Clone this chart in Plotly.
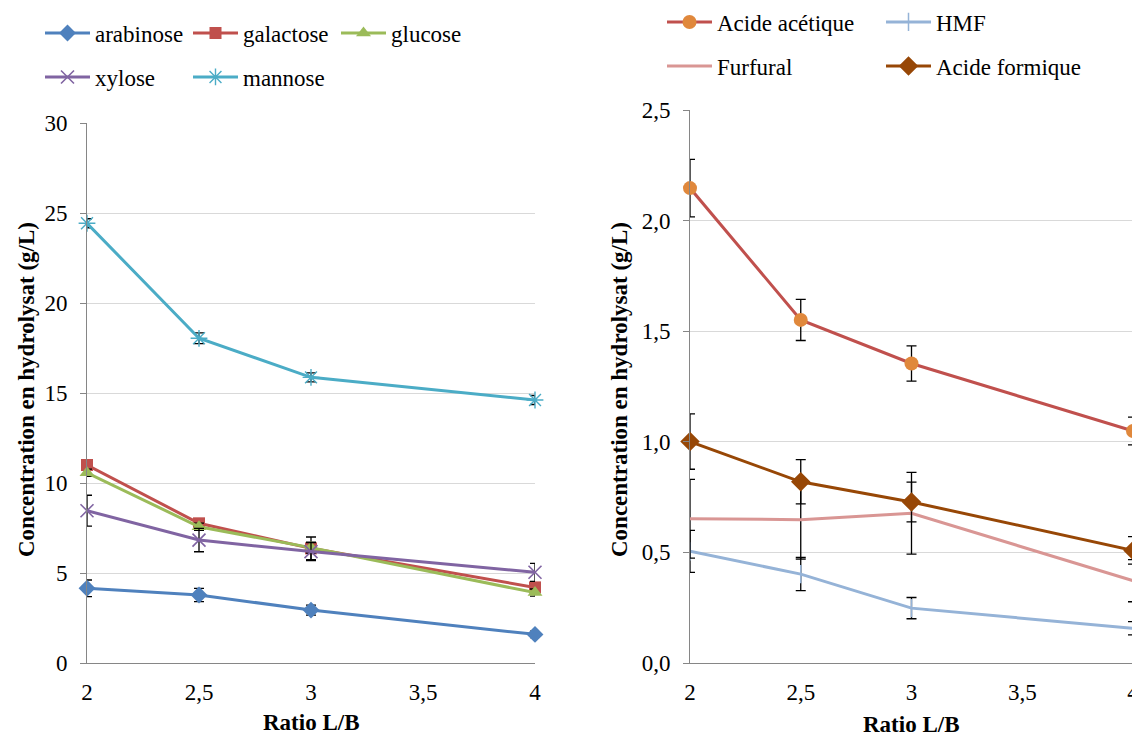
import plotly.graph_objects as go

# ---------------- data ----------------
ratio = [2, 2.5, 3, 4]

arabinose = [4.15, 3.78, 2.94, 1.59]
arabinose_err = [0.46, 0.37, 0.28, 0.18]
galactose = [11.0, 7.76, 6.37, 4.2]
galactose_err = [0.2, 0.2, 0.63, 0.3]
glucose = [10.57, 7.57, 6.41, 3.91]
glucose_err = [0.2, 0.2, 0.3, 0.2]
xylose = [8.46, 6.83, 6.19, 5.04]
xylose_err = [0.86, 0.65, 0.5, 0.5]
mannose = [24.43, 18.04, 15.87, 14.61]
mannose_err = [0.25, 0.3, 0.25, 0.25]

acide_acetique = [2.147, 1.551, 1.354, 1.049]
acide_acetique_err = [0.13, 0.093, 0.08, 0.063]
hmf = [0.505, 0.402, 0.248, 0.157]
hmf_err = [0.095, 0.075, 0.048, 0.03]
furfural = [0.652, 0.648, 0.677, 0.372]
furfural_err = [0.178, 0.178, 0.185, 0.095]
acide_formique = [1.001, 0.819, 0.728, 0.509]
acide_formique_err = [0.125, 0.1, 0.09, 0.062]

x_title = "Ratio L/B"
y_title = "Concentration en hydrolysat (g/L)"

FONT = "'Liberation Serif', 'Times New Roman', Times, 'DejaVu Serif', 'Noto Serif', serif"
OFF = 8                      # page body margin
W, H = 1140 - OFF, 738 - OFF


def px(xp):
    return (xp - OFF) / W


def py(yp):
    return 1 - (yp - OFF) / H


def err(arr):
    return dict(type="data", array=arr, color="black", thickness=1.3, width=5)


fig = go.Figure()

left = [
    ("arabinose", arabinose, arabinose_err, "#4F81BD",
     dict(symbol="diamond", size=13, color="#4F81BD"), "legend"),
    ("galactose", galactose, galactose_err, "#C0504D",
     dict(symbol="square", size=12, color="#C0504D"), "legend"),
    ("glucose", glucose, glucose_err, "#9BBB59",
     dict(symbol="triangle-up", size=13, color="#9BBB59"), "legend"),
    ("xylose", xylose, xylose_err, "#8064A2",
     dict(symbol="x-thin", size=13, color="#8064A2",
          line=dict(width=1.6, color="#8064A2")), "legend2"),
    ("mannose", mannose, mannose_err, "#4BACC6",
     dict(symbol="asterisk", size=14, color="#4BACC6",
          line=dict(width=1.4, color="#4BACC6")), "legend2"),
]
for name, y, e, col, mk, lg in left:
    fig.add_trace(go.Scatter(
        x=ratio, y=y, name=name, mode="lines+markers",
        line=dict(color=col, width=3), marker=mk, error_y=err(e),
        xaxis="x", yaxis="y", legend=lg, cliponaxis=False))

right = [
    ("Acide acétique", acide_acetique, acide_acetique_err, "#C0504D",
     dict(symbol="circle", size=14, color="#E0883C"), "lines+markers", "legend3"),
    ("HMF", hmf, hmf_err, "#95B3D7",
     dict(symbol="line-ns", size=13, color="#95B3D7",
          line=dict(width=1.5, color="#95B3D7")), "lines+markers", "legend3"),
    ("Furfural", furfural, furfural_err, "#D99694",
     None, "lines", "legend4"),
    ("Acide formique", acide_formique, acide_formique_err, "#974706",
     dict(symbol="diamond", size=15, color="#974706"), "lines+markers", "legend4"),
]
for name, y, e, col, mk, mode, lg in right:
    kw = dict(marker=mk) if mk else {}
    fig.add_trace(go.Scatter(
        x=ratio, y=y, name=name, mode=mode,
        line=dict(color=col, width=3), error_y=err(e),
        xaxis="x2", yaxis="y2", legend=lg, cliponaxis=False, **kw))

axis_common = dict(
    showline=True, linecolor="#868686", linewidth=1,
    tickfont=dict(family=FONT, size=23, color="black"),
    zeroline=False, automargin=False,
)

def xax(domain, anchor):
    return dict(domain=domain, anchor=anchor, range=[2, 4], dtick=0.5, tick0=2,
                showgrid=False, ticks="", ticklabelstandoff=8,
                **axis_common)

def yax(domain, anchor, rng, dtick, fmt):
    return dict(domain=domain, anchor=anchor, range=rng, dtick=dtick, tick0=0,
                tickformat=fmt, showgrid=True, gridcolor="#D9D9D9", gridwidth=1,
                ticks="outside", ticklen=6, tickcolor="#868686",
                ticklabelstandoff=8,
                **axis_common)

fig.update_layout(
    width=W, height=H,
    margin=dict(l=0, r=0, t=0, b=0, autoexpand=False),
    paper_bgcolor="white", plot_bgcolor="white",
    separators=", ",
    font=dict(family=FONT, size=23, color="black"),
    xaxis=xax([px(87), px(535)], "y"),
    yaxis=yax([py(663), py(123)], "x", [0, 30], 5, "d"),
    xaxis2=xax([px(690), px(1133)], "y2"),
    yaxis2=yax([py(663), py(110)], "x2", [0, 2.5], 0.5, ".1f"),
    showlegend=True,
)

# axis titles placed at their exact positions
title_font = dict(family=FONT, size=23, color="black")
titles = [
    (x_title, px(311), py(722), 0),
    (x_title, px(911), py(724), 0),
    (y_title, px(27), py(390), -90),
    (y_title, px(620), py(390), -90),
]
for txt, xx, yy, ang in titles:
    fig.add_annotation(text="<b>%s</b>" % txt, x=xx, y=yy, xref="paper",
                       yref="paper", showarrow=False, textangle=ang,
                       xanchor="center", yanchor="middle", font=title_font)

leg_common = dict(orientation="h", xanchor="left", yanchor="middle",
                  font=dict(family=FONT, size=23, color="black"),
                  bgcolor="rgba(0,0,0,0)", entrywidthmode="pixels",
                  itemwidth=45, tracegroupgap=0)
fig.update_layout(
    legend=dict(x=px(40), y=py(33), entrywidth=88, **leg_common),
    legend2=dict(x=px(40), y=py(77), entrywidth=88, **leg_common),
    legend3=dict(x=px(662), y=py(22), entrywidth=159, **leg_common),
    legend4=dict(x=px(662), y=py(66), entrywidth=159, **leg_common),
)

fig.write_html("out.html")
